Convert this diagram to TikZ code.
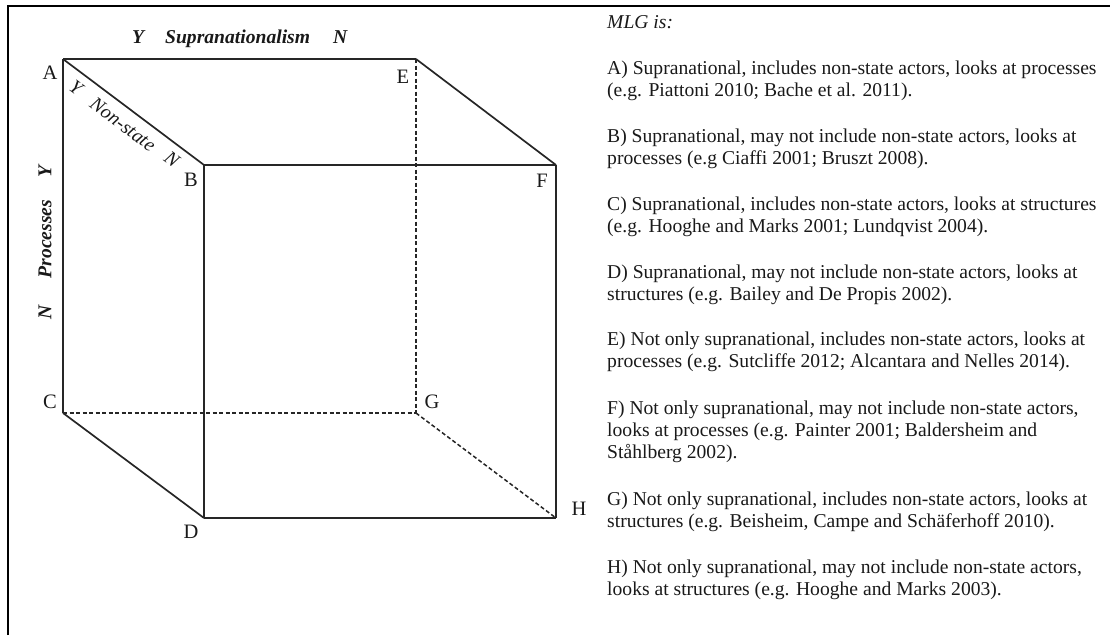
\documentclass[tikz,border=0pt]{standalone}
\usepackage{fontspec}
\setmainfont{Liberation Serif}
\begin{document}
\begin{tikzpicture}[x=1pt,y=-1pt,
  edge/.style={draw=black!85, line width=1.7pt},
  hidden/.style={draw=black!85, line width=1.5pt, dash pattern=on 4pt off 2.5pt},
  vlabel/.style={font=\fontsize{20.5}{22}\selectfont, inner sep=0pt, text=black!90},
  axislabel/.style={font=\fontsize{19.6}{22}\selectfont\bfseries\itshape, inner sep=0pt, text=black!90},
  slantlabel/.style={font=\fontsize{19.6}{22}\selectfont\itshape, inner sep=0pt, text=black!90, rotate=-36.6},
  txt/.style={font=\fontsize{19.6}{22}\selectfont, inner sep=0pt, anchor=base west, text=black!90}
]
\useasboundingbox (0,0) rectangle (1110,635);
% frame
\draw[line width=2pt] (8,635) -- (8,6) -- (1110,6);

% cube vertices
\coordinate (A) at (63,59);
\coordinate (E) at (416,59);
\coordinate (B) at (204,165);
\coordinate (F) at (556,165);
\coordinate (C) at (63,413);
\coordinate (G) at (416,413);
\coordinate (D) at (204,518);
\coordinate (H) at (556,518);

% solid edges
\draw[edge] (A) -- (E);
\draw[edge] (A) -- (B);
\draw[edge] (E) -- (F);
\draw[edge] (B) -- (F);
\draw[edge] (A) -- (C);
\draw[edge] (B) -- (D);
\draw[edge] (F) -- (H);
\draw[edge] (C) -- (D);
\draw[edge] (D) -- (H);
% hidden edges
\draw[hidden] (E) -- (G);
\draw[hidden] (C) -- (G);
\draw[hidden] (G) -- (H);

% vertex labels
\node[vlabel] (lA) at (50,73) {A};
\node[vlabel] (lE) at (403,77) {E};
\node[vlabel] (lB) at (191,180) {B};
\node[vlabel] (lF) at (542,181) {F};
\node[vlabel] (lC) at (50,402) {C};
\node[vlabel] (lG) at (432,402) {G};
\node[vlabel] (lD) at (191,532) {D};
\node[vlabel] (lH) at (579,509) {H};

% axis labels
\node[axislabel, anchor=base west] (supY) at (132,43) {Y};
\node[axislabel, anchor=base west] (sup) at (165,43) {Supranationalism};
\node[axislabel, anchor=base west] (supN) at (333,43) {N};

\node[slantlabel] (nsY) at (76,87.5) {Y};
\node[slantlabel] (ns) at (123,124.5) {Non-state};
\node[slantlabel] (nsN) at (172,159) {N};

\node[axislabel, rotate=90] (prY) at (45,172) {Y};
\node[axislabel, rotate=90] (pr) at (45,239) {Processes};
\node[axislabel, rotate=90] (prN) at (45,312) {N};

% text
\node[txt, font=\fontsize{19.6}{22}\selectfont\itshape] (t0) at (607,28) {MLG is:};
\node[txt] (a1) at (607,74) {A) Supranational, includes non-state actors, looks at processes};
\node[txt] (a2) at (607,96) {(e.g. Piattoni 2010; Bache et al. 2011).};
\node[txt] (b1) at (607,142.5) {B) Supranational, may not include non-state actors, looks at};
\node[txt] (b2) at (607,164.5) {processes (e.g Ciaffi 2001; Bruszt 2008).};
\node[txt] (c1) at (607,210.5) {C) Supranational, includes non-state actors, looks at structures};
\node[txt] (c2) at (607,232.5) {(e.g. Hooghe and Marks 2001; Lundqvist 2004).};
\node[txt] (d1) at (607,278) {D) Supranational, may not include non-state actors, looks at};
\node[txt] (d2) at (607,300) {structures (e.g. Bailey and De Propis 2002).};
\node[txt] (e1) at (607,345) {E) Not only supranational, includes non-state actors, looks at};
\node[txt] (e2) at (607,367) {processes (e.g. Sutcliffe 2012; Alcantara and Nelles 2014).};
\node[txt] (f1) at (607,414) {F) Not only supranational, may not include non-state actors,};
\node[txt] (f2) at (607,436) {looks at processes (e.g. Painter 2001; Baldersheim and};
\node[txt] (f3) at (607,458) {Ståhlberg 2002).};
\node[txt] (g1) at (607,505) {G) Not only supranational, includes non-state actors, looks at};
\node[txt] (g2) at (607,527) {structures (e.g. Beisheim, Campe and Schäferhoff 2010).};
\node[txt] (h1) at (607,573) {H) Not only supranational, may not include non-state actors,};
\node[txt] (h2) at (607,595) {looks at structures (e.g. Hooghe and Marks 2003).};
\end{tikzpicture}
\end{document}
